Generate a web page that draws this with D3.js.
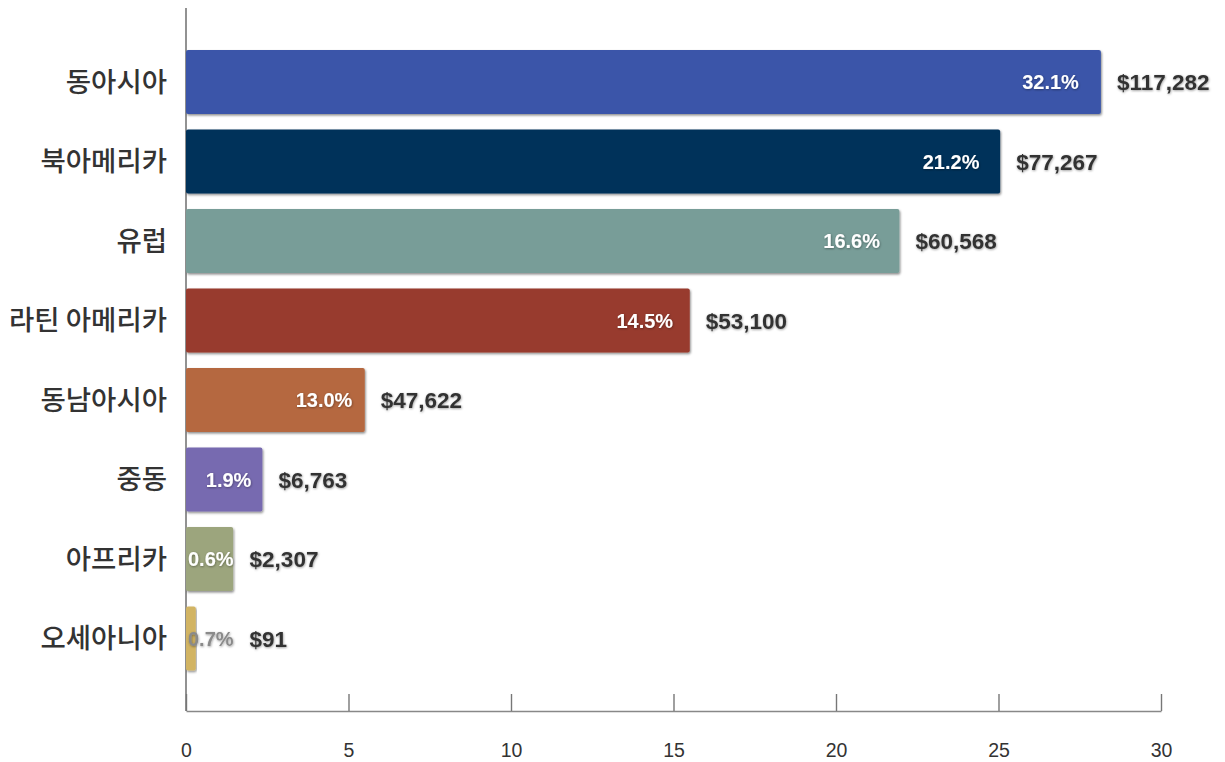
<!DOCTYPE html>
<html><head><meta charset="utf-8">
<script src="https://cdn.jsdelivr.net/npm/d3@7"></script>
<style>
body{margin:0;background:#fff;}
svg{display:block;}
</style></head>
<body>
<svg id="chart" width="1225" height="762"></svg>
<script>
const categories = ['동아시아','북아메리카','유럽','라틴 아메리카','동남아시아','중동','아프리카','오세아니아'];
const values = [28.15, 25.05, 21.95, 15.5, 5.5, 2.35, 1.45, 0.3];
const shares = ['32.1%','21.2%','16.6%','14.5%','13.0%','1.9%','0.6%','0.7%'];
const amounts = ['$117,282','$77,267','$60,568','$53,100','$47,622','$6,763','$2,307','$91'];
const colors = ['#3a55a9','#04305a','#789d98','#983b2e','#b5673f','#776bb0','#9ca57d','#d2b463'];
const ticks = [0,5,10,15,20,25,30];

const svg = d3.select('#chart');
const x = d3.scaleLinear().domain([0,30]).range([186,1161]);
const y = d3.scaleBand().domain(categories).range([34.5,686]).paddingInner(0.195).paddingOuter(0.195);
const axisY = 711;

const defs = svg.append('defs');
const f = defs.append('filter').attr('id','sh').attr('x','-5%').attr('y','-10%').attr('width','115%').attr('height','130%');
f.append('feDropShadow').attr('dx',1).attr('dy',1.5).attr('stdDeviation',1).attr('flood-color','#000').attr('flood-opacity',0.45);
const tf = defs.append('filter').attr('id','tsh').attr('x','-10%').attr('y','-20%').attr('width','130%').attr('height','150%');
tf.append('feDropShadow').attr('dx',0.5).attr('dy',0.8).attr('stdDeviation',0.8).attr('flood-color','#000').attr('flood-opacity',0.4);

// bottom axis (ticks pointing up)
const xAxis = d3.axisBottom(x).tickValues(ticks).tickSizeInner(-17).tickSizeOuter(0).tickPadding(0).tickFormat(d3.format('d'));
const gx = svg.append('g').attr('transform',`translate(0,${axisY})`).call(xAxis);
gx.select('.domain').attr('stroke','#888').attr('stroke-width',1.6);
gx.selectAll('.tick line').attr('stroke','#777').attr('stroke-width',1.4);
gx.selectAll('.tick text').attr('y',46).attr('dy',0).attr('fill','#333')
  .style('font-family','"Liberation Sans", Arial, sans-serif').style('font-size','19.5px');

// y axis line
svg.append('line').attr('x1',x(0)).attr('x2',x(0)).attr('y1',8).attr('y2',axisY)
  .attr('stroke','#777').attr('stroke-width',1.6);

// category labels
const yAxis = d3.axisLeft(y).tickSize(0).tickPadding(19);
const gy = svg.append('g').attr('transform',`translate(${x(0)},0)`).call(yAxis);
gy.select('.domain').remove();
gy.selectAll('.tick text').attr('fill','#333').attr('dy','0.35em')
  .style('font-family','"Noto Sans CJK KR", sans-serif').style('font-size','27.5px').style('font-weight','500');

// bars
const rows = categories.map((c,i)=>({c, v:values[i], s:shares[i], a:amounts[i], col:colors[i]}));
const g = svg.append('g');
g.selectAll('rect').data(rows).join('rect')
  .attr('x',x(0)).attr('y',d=>y(d.c)).attr('width',d=>x(d.v)-x(0)).attr('height',y.bandwidth())
  .attr('rx',2).attr('fill',d=>d.col).attr('filter','url(#sh)');

// labels
const lab = svg.append('g').style('font-family','"Liberation Sans", Arial, sans-serif').style('font-weight','bold');
rows.forEach(d=>{
  const cy = y(d.c)+y.bandwidth()/2;
  const end = x(d.v);
  const len = end - x(0);
  const t = lab.append('text').attr('y',cy).attr('dy','0.36em').attr('text-anchor','end')
    .style('font-size','20px').attr('filter','url(#tsh)').text(d.s);
  const w = t.node().getComputedTextLength();
  const pr = Math.max(end-(10+12*len/915), x(0)+2+w);
  t.attr('x',pr).attr('fill', pr>end+2 ? '#8a8a8a' : '#fff');
  lab.append('text').attr('x',Math.max(end,pr)+16).attr('y',cy).attr('dy','0.36em')
    .attr('fill','#333').style('font-size','22.5px').attr('filter','url(#tsh)').text(d.a);
});
</script>
</body></html>
